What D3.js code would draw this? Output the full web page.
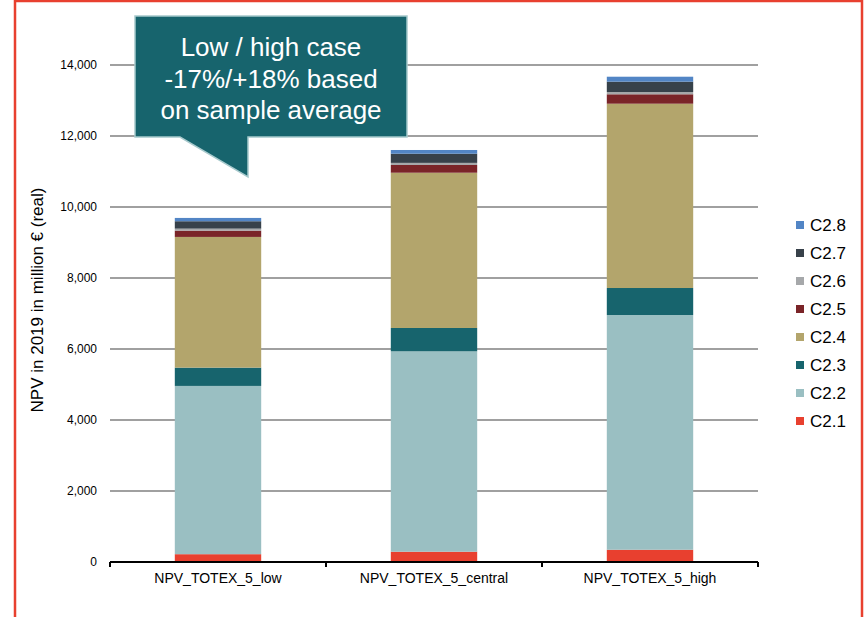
<!DOCTYPE html>
<html>
<head>
<meta charset="utf-8">
<script src="https://cdn.jsdelivr.net/npm/d3@7"></script>
<style>
body{margin:0;background:#fff}
svg{display:block;font-family:Arial,"Liberation Sans",sans-serif}
</style>
</head>
<body>
<svg id="npv-svg" width="865" height="617"></svg>
<script>
var cases=['NPV_TOTEX_5_low','NPV_TOTEX_5_central','NPV_TOTEX_5_high']
var keys=['C2.1','C2.2','C2.3','C2.4','C2.5','C2.6','C2.7','C2.8']
var colors=['#e8402f','#9abfc2','#17646d','#b3a56c','#7a2428','#a6a8aa','#37414a','#5285c5']
// segment values, million € (one entry per case)
var c21=[220,290,345]
var c22=[4740,5645,6613]
var c23=[515,657,760]
var c24=[3682,4374,5192]
var c25=[177,217,265]
var c26=[57,60,64]
var c27=[208,258,291]
var c28=[93,105,140]
var yTicks=[0,2000,4000,6000,8000,10000,12000,14000]
var calloutLines=['Low / high case','-17%/+18% based','on sample average']

var svg=d3.select('#npv-svg')
var margin={top:65,left:110,right:107,bottom:55}
var conf={width:865,height:617}

var rows=cases.map((c,i)=>({
    name:c,
    'C2.1':c21[i],'C2.2':c22[i],'C2.3':c23[i],'C2.4':c24[i],
    'C2.5':c25[i],'C2.6':c26[i],'C2.7':c27[i],'C2.8':c28[i]
}))
var stack=d3.stack().keys(keys)(rows)

var x=d3.scaleBand()
        .domain(cases)
        .range([margin.left,conf.width-margin.right])
        .paddingInner(0.6)
        .paddingOuter(0.3),
    y=d3.scaleLinear()
        .domain([0,14000])
        .range([562,65]),
    color=d3.scaleOrdinal().domain(keys).range(colors)

// frame
svg.append('rect')
    .attr('x',15).attr('y',1)
    .attr('width',847).attr('height',660)
    .attr('fill','none')
    .attr('stroke','#e8402f')
    .attr('stroke-width',2.5)

// grid
svg.append('g')
    .attr('id','grid')
    .selectAll('line')
    .data(yTicks.filter(d=>d>0))
    .join('line')
    .attr('x1',margin.left)
    .attr('x2',conf.width-margin.right)
    .attr('y1',d=>y(d))
    .attr('y2',d=>y(d))
    .attr('stroke','#a0a0a0')
    .attr('stroke-width',2)

// y labels
var yAxis=svg.append('g')
    .attr('transform',`translate(${margin.left},0)`)
    .call(d3.axisLeft(y).tickValues(yTicks).tickSize(0).tickPadding(13).tickFormat(d3.format(',')))
yAxis.select('.domain').remove()
yAxis.selectAll('text').attr('font-size',12).attr('fill','#000').attr('font-family','Arial,"Liberation Sans",sans-serif')

svg.append('text')
    .attr('transform','translate(43,300) rotate(-90)')
    .attr('text-anchor','middle')
    .attr('font-size',17)
    .attr('fill','#000')
    .text('NPV in 2019 in million € (real)')

// bars
svg.append('g')
    .attr('id','bars')
    .selectAll('g')
    .data(stack)
    .join('g')
    .attr('fill',d=>color(d.key))
    .selectAll('rect')
    .data(d=>d)
    .join('rect')
    .attr('x',d=>x(d.data.name))
    .attr('width',x.bandwidth())
    .attr('y',d=>y(d[1]))
    .attr('height',d=>y(d[0])-y(d[1]))

// x axis
var xAxis=svg.append('g')
    .attr('transform','translate(0,562)')
xAxis.append('line')
    .attr('x1',margin.left).attr('x2',conf.width-margin.right)
    .attr('y1',0).attr('y2',0)
    .attr('stroke','#000').attr('stroke-width',2)
// category boundaries
var edges=[margin.left].concat(cases.slice(1).map(c=>x(c)-(x.step()-x.bandwidth())/2),[conf.width-margin.right])
xAxis.selectAll('.tk')
    .data(edges)
    .join('line')
    .attr('class','tk')
    .attr('x1',d=>d).attr('x2',d=>d)
    .attr('y1',0).attr('y2',5)
    .attr('stroke','#000').attr('stroke-width',2)
xAxis.selectAll('.lbl')
    .data(cases)
    .join('text')
    .attr('class','lbl')
    .attr('x',d=>x(d)+x.bandwidth()/2)
    .attr('y',21)
    .attr('text-anchor','middle')
    .attr('font-size',14)
    .attr('fill','#000')
    .text(d=>d)

// legend
var legend=svg.append('g')
    .attr('id','legend')
    .selectAll('g')
    .data(keys.slice().reverse())
    .join('g')
    .attr('transform',(d,i)=>`translate(796,${225+i*28})`)
legend.append('rect')
    .attr('x',0).attr('y',-4)
    .attr('width',8).attr('height',8)
    .attr('fill',d=>color(d))
legend.append('text')
    .attr('x',14)
    .attr('y',6)
    .attr('font-size',17)
    .attr('fill','#000')
    .text(d=>d)

// callout
var co=svg.append('g').attr('id','callout')
var path=d3.path()
path.moveTo(135,16)
path.lineTo(407,16)
path.lineTo(407,137)
path.lineTo(248,137)
path.lineTo(248,177)
path.lineTo(180,137)
path.lineTo(135,137)
path.closePath()
co.append('path')
    .attr('d',path.toString())
    .attr('fill','#17646d')
    .attr('stroke','#a7c9cc')
    .attr('stroke-width',1.5)
co.selectAll('text')
    .data(calloutLines)
    .join('text')
    .attr('x',271)
    .attr('y',(d,i)=>56+i*31.5)
    .attr('text-anchor','middle')
    .attr('font-size',26)
    .attr('fill','#fff')
    .text(d=>d)
</script>
</body>
</html>
